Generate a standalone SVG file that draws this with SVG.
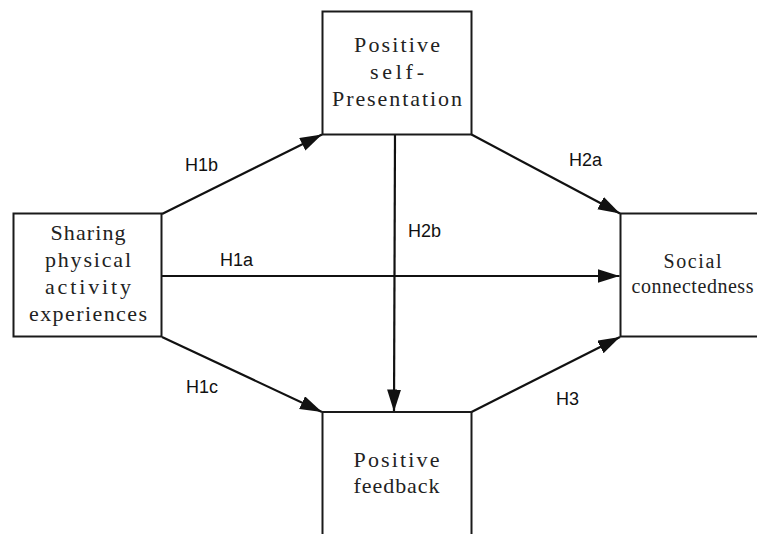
<svg xmlns="http://www.w3.org/2000/svg" width="757" height="534" viewBox="0 0 757 534">
<style>
.box{fill:#fff;stroke:#1a1a1a;stroke-width:2}
.nt{font-family:"Liberation Serif","Noto Serif CJK SC","Noto Sans CJK SC",serif;font-size:22px;fill:#222;text-anchor:middle}
.nt2{font-family:"Liberation Serif","Noto Serif CJK SC","Noto Sans CJK SC",serif;font-size:20px;fill:#222;text-anchor:middle}
.lb{font-family:"Liberation Sans",Arial,sans-serif;font-size:18px;fill:#111}
.ed{stroke:#111;stroke-width:2.2;fill:none;marker-end:url(#ah)}
</style>
<defs>
<marker id="ah" markerUnits="userSpaceOnUse" markerWidth="24" markerHeight="16" refX="22" refY="7" orient="auto">
<path d="M0,0 L22,7 L0,14 z" fill="#111"/>
</marker>
</defs>
<g id="connectors">
<line class="ed" x1="162" y1="214" x2="322" y2="134.5"/>
<line class="ed" x1="471.5" y1="134.5" x2="620" y2="213.5"/>
<line class="ed" x1="162" y1="276" x2="619.5" y2="276"/>
<line class="ed" x1="162" y1="337" x2="322" y2="412"/>
<line class="ed" x1="471.5" y1="412" x2="620" y2="337"/>
<line class="ed" x1="395" y1="134.5" x2="394" y2="411.5"/>
</g>
<g id="labels">
<text class="lb" x="185" y="171">H1b</text>
<text class="lb" x="569" y="166">H2a</text>
<text class="lb" x="408" y="237">H2b</text>
<text class="lb" x="220" y="266">H1a</text>
<text class="lb" x="186" y="393">H1c</text>
<text class="lb" x="556" y="405">H3</text>
</g>
<g id="n-selfpres">
<rect class="box" x="322.5" y="11.5" width="149" height="123"/>
<text class="nt" x="397" y="52" textLength="86" lengthAdjust="spacing">Positive</text>
<text class="nt" x="397" y="78.5" textLength="54" lengthAdjust="spacing">self-</text>
<text class="nt" x="397" y="105.5" textLength="130" lengthAdjust="spacing">Presentation</text>
</g>
<g id="n-sharing">
<rect class="box" x="13.5" y="213.5" width="148" height="123"/>
<text class="nt" x="88" y="240" textLength="75" lengthAdjust="spacing">Sharing</text>
<text class="nt" x="88" y="267" textLength="86" lengthAdjust="spacing">physical</text>
<text class="nt" x="88" y="293.5" textLength="86" lengthAdjust="spacing">activity</text>
<text class="nt" x="88" y="320.5" textLength="118" lengthAdjust="spacing">experiences</text>
</g>
<g id="n-social">
<rect class="box" x="620.5" y="213.5" width="150" height="123"/>
<text class="nt2" x="692.5" y="268" textLength="58" lengthAdjust="spacing">Social</text>
<text class="nt2" x="692.5" y="293" textLength="122" lengthAdjust="spacing">connectedness</text>
</g>
<g id="n-feedback">
<rect class="box" x="322.5" y="412" width="149" height="140"/>
<text class="nt" x="396.5" y="467" textLength="86" lengthAdjust="spacing">Positive</text>
<text class="nt" x="396.5" y="493" textLength="86" lengthAdjust="spacing">feedback</text>
</g>
</svg>
